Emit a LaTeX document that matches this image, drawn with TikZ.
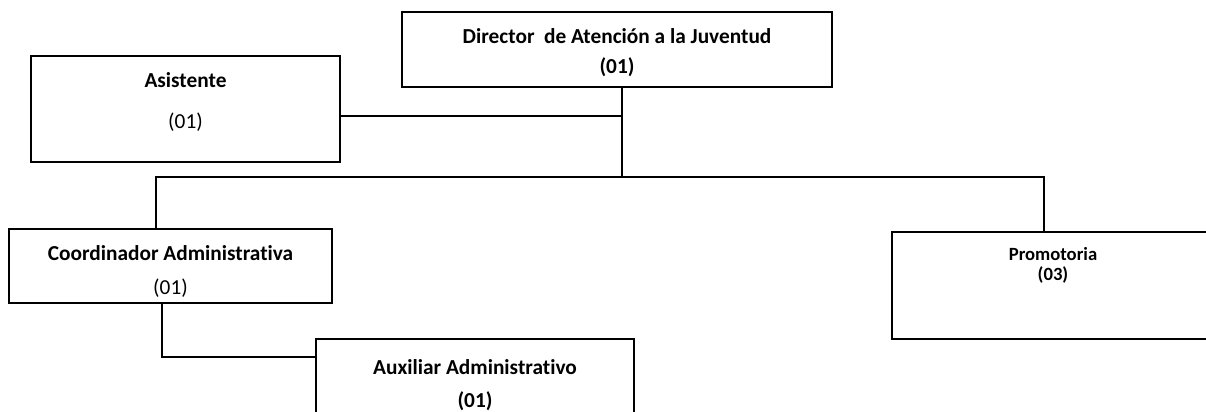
\documentclass[tikz,border=0pt]{standalone}
\usepackage{fontspec}
\setmainfont{Carlito}[Ligatures=NoCommon]
\begin{document}
\begin{tikzpicture}[x=0.75pt,y=-0.75pt,
  box/.style={draw=black,line width=0.9pt,fill=white,align=center,inner sep=0pt},
  conn/.style={draw=black,line width=1.5pt},
  big/.style={font=\fontsize{16}{16}\selectfont}]
\useasboundingbox (0,0) rectangle (1206,411);
\clip (0,0) rectangle (1206,411);
% boxes
\node[box,minimum width=430*0.75pt,minimum height=75*0.75pt] (director) at (617,49.5) {};
\node[big,align=center] (directort) at (617,53) {\textbf{Director\ \ de Atención a la Juventud}\\[6.5pt]\textbf{(01)}};
\node[box,minimum width=309*0.75pt,minimum height=106*0.75pt] (asistente) at (185.5,109) {};
\node[big,align=center] (asistentet) at (185.5,102) {\textbf{Asistente}\\[15pt](01)};
\node[box,minimum width=323*0.75pt,minimum height=74*0.75pt] (coordinador) at (170.5,266) {};
\node[big,align=center] (coordinadort) at (170.5,271) {\textbf{Coordinador Administrativa}\\[9.5pt](01)};
\node[box,minimum width=322*0.75pt,minimum height=107*0.75pt] (promotoria) at (1053,285.5) {};
\node[align=center,font=\fontsize{14}{14}\selectfont\bfseries] (promotoriat) at (1053,265.5) {Promotoria\\[1pt](03)};
\node[box,minimum width=318*0.75pt,minimum height=82*0.75pt] (auxiliar) at (475,380) {};
\node[big,align=center] (auxiliart) at (475,385) {\textbf{Auxiliar Administrativo}\\[9pt]\textbf{(01)}};
% junctions
\coordinate (j1) at (622,177);
\coordinate (ja) at (622,116);
\coordinate (hl) at (156,177);
\coordinate (hr) at (1044,177);
\coordinate (jc) at (162,357);
% connectors
\draw[conn] (director.south -| j1) -- (j1);
\draw[conn] (asistente.east |- ja) -- (ja);
\draw[conn] (coordinador.north -| hl) -- (hl) -- (hr) -- (promotoria.north -| hr);
\draw[conn] (coordinador.south -| jc) -- (jc) -- (auxiliar.west |- jc);
\end{tikzpicture}
\end{document}
